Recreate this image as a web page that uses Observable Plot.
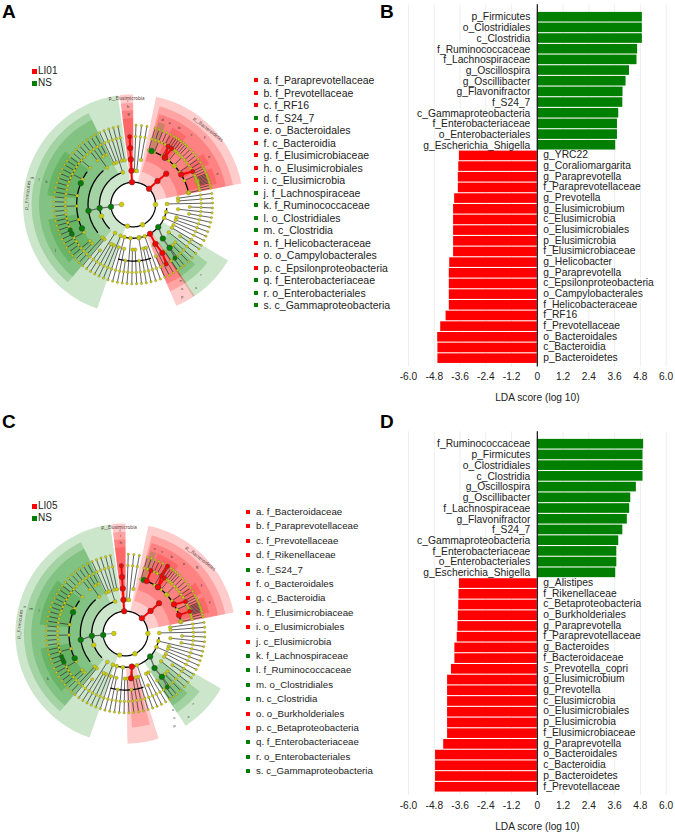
<!DOCTYPE html>
<html>
<head>
<meta charset="utf-8">
<script src="https://cdn.jsdelivr.net/npm/d3@7"></script>
<script src="https://cdn.jsdelivr.net/npm/@observablehq/plot@0.6"></script>
<style>
html,body{margin:0;padding:0;background:#fff;}
#page{position:relative;width:675px;height:832px;overflow:hidden;font-family:"Liberation Sans",Arial,sans-serif;color:#222;}
.panel{position:absolute;}
.panel svg{overflow:visible;background:transparent;display:block;}
.letter{position:absolute;font-weight:bold;font-size:19px;line-height:19px;color:#000;}
.key{position:absolute;white-space:nowrap;line-height:12px;}
.key i{position:absolute;width:4px;height:4px;top:4px;}
.leg{position:absolute;white-space:nowrap;font-size:10px;line-height:12px;}
.leg i{position:absolute;width:4px;height:4px;top:4px;left:-6px;}
</style>
</head>
<body>
<div id="page"></div>
<script>
const RED = "#ff0000", GREEN = "#007f00";

// ---- bar panels ----
const namesB = ["p_Firmicutes","o_Clostridiales","c_Clostridia","f_Ruminococcaceae","f_Lachnospiraceae","g_Oscillospira","g_Oscillibacter","g_Flavonifractor","f_S24_7","c_Gammaproteobacteria","f_Enterobacteriaceae","o_Enterobacteriales","g_Escherichia_Shigella","g_YRC22","g_Coraliomargarita","g_Paraprevotella","f_Paraprevotellaceae","g_Prevotella","g_Elusimicrobium","c_Elusimicrobia","o_Elusimicrobiales","p_Elusimicrobia","f_Elusimicrobiaceae","g_Helicobacter","g_Paraprevotella","c_Epsilonproteobacteria","o_Campylobacterales","f_Helicobacteraceae","f_RF16","f_Prevotellaceae","o_Bacteroidales","c_Bacteroidia","p_Bacteroidetes"];
const valuesB = [4.89,4.89,4.89,4.67,4.64,4.29,4.13,3.99,3.98,3.79,3.73,3.73,3.65,-3.63,-3.66,-3.68,-3.68,-3.85,-3.90,-3.90,-3.90,-3.90,-3.90,-4.08,-4.10,-4.10,-4.10,-4.10,-4.25,-4.50,-4.64,-4.63,-4.63];
const namesD = ["f_Ruminococcaceae","p_Firmicutes","o_Clostridiales","c_Clostridia","g_Oscillospira","g_Oscillibacter","f_Lachnospiraceae","g_Flavonifractor","f_S24_7","c_Gammaproteobacteria","f_Enterobacteriaceae","o_Enterobacteriales","g_Escherichia_Shigella","g_Alistipes","f_Rikenellaceae","c_Betaproteobacteria","o_Burkholderiales","g_Paraprevotella","f_Paraprevotellaceae","g_Bacteroides","f_Bacteroidaceae","s_Prevotella_copri","g_Elusimicrobium","g_Prevotella","c_Elusimicrobia","o_Elusimicrobiales","p_Elusimicrobia","f_Elusimicrobiaceae","g_Paraprevotella","o_Bacteroidales","c_Bacteroidia","p_Bacteroidetes","f_Prevotellaceae"];
const valuesD = [4.95,4.92,4.92,4.92,4.61,4.35,4.30,4.19,3.98,3.79,3.70,3.70,3.65,-3.63,-3.65,-3.66,-3.68,-3.70,-3.73,-3.84,-3.84,-4.00,-4.18,-4.18,-4.18,-4.18,-4.18,-4.18,-4.36,-4.74,-4.74,-4.74,-4.75];
const ldaTicks = [-6,-4.8,-3.6,-2.4,-1.2,0,1.2,2.4,3.6,4.8,6];
const ldaLabels = ["-6.0","-4.8","-3.6","-2.4","-1.2","0","1.2","2.4","3.6","4.8","6.0"];

// ---- key lists ----
const keyA = ["a. f_Paraprevotellaceae","b. f_Prevotellaceae","c. f_RF16","d. f_S24_7","e. o_Bacteroidales","f. c_Bacteroidia","g. f_Elusimicrobiaceae","h. o_Elusimicrobiales","i. c_Elusimicrobia","j. f_Lachnospiraceae","k. f_Ruminococcaceae","l. o_Clostridiales","m. c_Clostridia","n. f_Helicobacteraceae","o. o_Campylobacterales","p. c_Epsilonproteobacteria","q. f_Enterobacteriaceae","r. o_Enterobacteriales","s. c_Gammaproteobacteria"];
const keyAc = "rrrgrrrrrggggrrrggg";
const keyC = ["a. f_Bacteroidaceae","b. f_Paraprevotellaceae","c. f_Prevotellaceae","d. f_Rikenellaceae","e. f_S24_7","f. o_Bacteroidales","g. c_Bacteroidia","h. f_Elusimicrobiaceae","i. o_Elusimicrobiales","j. c_Elusimicrobia","k. f_Lachnospiraceae","l. f_Ruminococcaceae","m. o_Clostridiales","n. c_Clostridia","o. o_Burkholderiales","p. c_Betaproteobacteria","q. f_Enterobacteriaceae","r. o_Enterobacteriales","s. c_Gammaproteobacteria"];
const keyCc = "rrrrgrrrrrggggrrggg";

// ---- cladogram tree: angle clockwise from north, level = ring ----
const spokeAngle = [2,6,10, 16,19,22,25,28,31,33,35,37,39,41,43,46,49,52,55,58,61,63,65,67,68,69,70,71,72,73,74,76,78, 82,85.5,89,92.5,96,99.5,103,106.5,110,113.5,117, 121,124,128,132,136,140,143,146, 149.5,153,156.5,160,163.5,167,170.5,174,177.5,181,184.5,188,191.5,195,198.5, 202,205.5,209,212.5,216,219.5,223,226.5,230,233.5,237,240.5,244,247.5,251,254.5,258,261.5,265,268.5,272,275.5,279,282.5,286,289.5,293,296.5,300,303.5,307,310.5,314,317.5,321,324.5,328,331.5,335,338.5,342,345.5,349];
const spokeFrom = [2,2,3, 4,5,4,5,5,4,5,5,5,4,5,5,4,5,5,4,5,5,5,4,5,5,5,5,5,5,5,5,5,4, 3,3,2,4,3,4,2,3,3,2,3, 3,4,3,4,4,4,5,4, 3,3,4,2,3,3,2,4,3,3,2,4,3,2,3, 2,3,3,2,4,3,3,4,4,5,5,4,5,5,5,4,5,5,5,4,5,5,4,5,5,5,5,4,5,5,5,4,5,5,4,3,4,4,3,3,2,3,3];

const arcAngle1 = [0,225,232,240,19,132,97,162,24,232,290];
const arcAngle2 = [360,338,318,305,78,195,130,195,40,262,312];
const arcLevel  = [1,2,3,4,4,2,2,4,5,5,5];

const labelsClade = ["p__Firmicutes","p__Bacteroidetes","p__Elusimicrobia"];

// highlighted chains: angle, level, colour
const chainsA = [
 {c:"r",t:[357,357,357,357,357],l:[1,2,3,4,5]},
 {c:"r",t:[45,46,47],l:[1,2,3]},
 {c:"r",t:[34,34.5],l:[4,5]},
 {c:"r",t:[34,31],l:[4,5]},
 {c:"g",t:[19],l:[4]},
 {c:"r",t:[58,61],l:[4,5]},
 {c:"r",t:[150,150.6,149,151],l:[2,3,4,5]},
 {c:"g",t:[132,139,140,142],l:[2,3,4,5]},
 {c:"g",t:[264,264,262],l:[1,2,3]},
 {c:"g",t:[292],l:[4]},
 {c:"g",t:[245],l:[4]},
 {c:"g",t:[248,245,244],l:[5,5,5]}
];
const chainsC = [
 {c:"r",t:[356.5,356.5,356.5,356.5,356.5],l:[1,2,3,4,5]},
 {c:"r",t:[47,48,48],l:[1,2,3]},
 {c:"r",t:[35,32,32],l:[4,5,6]},
 {c:"r",t:[35,35],l:[4,5]},
 {c:"g",t:[19],l:[4]},
 {c:"r",t:[22,22],l:[4,5]},
 {c:"r",t:[59,62],l:[4,5]},
 {c:"r",t:[71,71],l:[4,5]},
 {c:"r",t:[169,173],l:[2,3]},
 {c:"g",t:[133,140,140,142],l:[2,3,4,5]},
 {c:"g",t:[266,266,262],l:[1,2,3]},
 {c:"g",t:[292],l:[4]},
 {c:"g",t:[244],l:[4]},
 {c:"g",t:[250,247,245],l:[5,5,5]}
];
// wedges: start angle, end angle, inner level, outer level, colour
const wedgesA = [
 [199,352,1,8.7,"g"],[220,334,2,7.95,"g"],[220,334,3,7.3,"g"],[228,260,4,6.6,"g"],[276,308,4,6.6,"g"],
 [12,79,1,8.7,"r"],[15,79,2,7.95,"r"],[16,79,3,7.3,"r"],[17,22,4,6.6,"g"],[27,38,4,6.6,"r"],[54,62,4,6.6,"r"],[65,76,4,6.6,"r"],
 [353,360,1,8.7,"r"],[353,360,2,7.95,"r"],[353,360,3,7.3,"r"],[353,360,4,6.6,"r"],
 [120.5,147,2,8.7,"g"],[128,147,3,7.3,"g"],[134,147,4,6.6,"g"],
 [146,157,2,8.7,"r"],[146,157,3,7.3,"r"],[146,157,4,6.6,"r"]
];
const wedgesC = [
 [199,352,1,8.7,"g"],[220,334,2,7.95,"g"],[220,334,3,7.3,"g"],[228,260,4,6.6,"g"],[276,308,4,6.6,"g"],
 [12,79,1,8.7,"r"],[15,79,2,7.95,"r"],[16,79,3,7.3,"r"],[17,21,4,6.6,"g"],[22,38,4,6.6,"r"],[54,62,4,6.6,"r"],[65,76,4,6.6,"r"],
 [353,360,1,8.7,"r"],[353,360,2,7.95,"r"],[353,360,3,7.3,"r"],[353,360,4,6.6,"r"],
 [120,147,2,8.7,"g"],[128,147,3,7.3,"g"],[134,147,4,6.6,"g"],
 [162.5,179,2,8.7,"r"],[165,176,3,7.3,"r"]
];
// small wedge letters
const lettersAt = [357,357,357,24,31,40,47,58,70,19,285,285,285,240,143,136,152,150,148];
const lettersLv = [8.2,7.6,7,6.9,6.9,7,7.6,6.9,6.9,6.9,8.2,7.6,6.9,6.9,8.2,7.6,8.2,7.6,6.9];
const lettersA = ["i","h","g","a","b","c","f","e","e","d","m","l","k","j","s","r","p","o","n"];
const lettersC = ["j","i","h","c","b","a","g","f","f","e","n","m","l","k","s","r","p","o","o"];

// ---- helpers ----
const page = document.getElementById("page");
const K = 11.4;
const rad = L => L + 0.96;
const px = (t,L) => rad(L)*Math.sin(t*Math.PI/180);
const py = (t,L) => rad(L)*Math.cos(t*Math.PI/180);
const col = c => c === "r" ? RED : GREEN;

function place(el,left,top){ const d=document.createElement("div"); d.className="panel"; d.style.left=left+"px"; d.style.top=top+"px"; d.appendChild(el); page.appendChild(d); }
function text(cls,left,top,str){ const d=document.createElement("div"); d.className=cls; d.style.left=left+"px"; d.style.top=top+"px"; d.textContent=str; page.appendChild(d); return d; }

function arcPts(t1,t2,L){ const n=Math.max(2,Math.ceil(Math.abs(t2-t1)/2)); return d3.range(n+1).map(i=>{const t=t1+(t2-t1)*i/n; return {x:px(t,L),y:py(t,L)};}); }

function clade({left,top,w,h,cx,cy,wedges,chains,letters,phyla}){
  const marks=[];
  wedges.forEach(([a,b,l0,l1,c])=>{
    const pts=[...arcPts(a,b,l1),...arcPts(b,a,l0)];
    marks.push(Plot.line(pts,{x:"x",y:"y",fill:c==="r"?"#ff0000":"#008000",fillOpacity:0.2,stroke:"none",curve:"linear-closed"}));
  });
  const spokes=spokeAngle.flatMap((t,i)=>[{x:px(t,spokeFrom[i]),y:py(t,spokeFrom[i]),z:i},{x:px(t,6),y:py(t,6),z:i}]);
  marks.push(Plot.line(spokes,{x:"x",y:"y",z:"z",stroke:"#3a3a3a",strokeWidth:0.8}));
  marks.push(Plot.line([{x:px(268,1),y:py(268,1)},{x:px(270,0.06),y:py(270,0.06)}],{x:"x",y:"y",stroke:"#999",strokeWidth:1}));
  arcAngle1.forEach((a,i)=>{
    marks.push(Plot.line(arcPts(a,arcAngle2[i],arcLevel[i]),{x:"x",y:"y",stroke:"#000",strokeWidth:arcLevel[i]<5?1.3:0.7}));
  });
  chains.forEach(ch=>{
    if(ch.t.length>1 && new Set(ch.l).size>1){
      const pts=ch.t.map((t,i)=>({x:px(t,ch.l[i]),y:py(t,ch.l[i])}));
      marks.push(Plot.line(pts,{x:"x",y:"y",stroke:ch.c==="r"?RED:"#666",strokeWidth:ch.c==="r"?2:1.3}));
    }
  });
  const sizeY=[2.3,2.3,2,1.8,1.6,1.4,1.2];
  const yellow=spokeAngle.flatMap((t,i)=>[spokeFrom[i],5,6].filter((L,j,a)=>a.indexOf(L)===j).map(L=>({x:px(t,L),y:py(t,L),r:sizeY[L]})));
  const extraT=[270,47,155,90,195,170,78,70,250];
  const extraL=[0.06,4,1,1,1,2,4,5,2];
  extraT.forEach((t,i)=>yellow.push({x:px(t,extraL[i]),y:py(t,extraL[i]),r:2.4}));
  marks.push(Plot.dot(yellow,{x:"x",y:"y",r:"r",fill:"#cccc00",stroke:"#666",strokeWidth:0.3}));
  const hi=chains.flatMap(ch=>ch.t.map((t,i)=>({x:px(t,ch.l[i]),y:py(t,ch.l[i]),r:ch.l[i]>=5?2.2:2.8,c:col(ch.c)})));
  marks.push(Plot.dot(hi,{x:"x",y:"y",r:"r",fill:"c",stroke:"#444",strokeWidth:0.5}));
  marks.push(Plot.text(letters,{x:(d,i)=>px(lettersAt[i],lettersLv[i]),y:(d,i)=>py(lettersAt[i],lettersLv[i]),text:d=>d,fontSize:4,fill:"#333"}));
  marks.push(Plot.text(labelsClade,{x:(d,i)=>px(phyla[i],8.35),y:(d,i)=>py(phyla[i],8.35),text:d=>d,rotate:(d,i)=>[-84,38,0][i],fontSize:4.6,fill:"#533"}));
  const plot=Plot.plot({
    width:w,height:h,margin:0,
    x:{domain:[-cx/K,(w-cx)/K],range:[0,w],axis:null},
    y:{domain:[-(h-cy)/K,cy/K],range:[h,0],axis:null},
    r:{type:"identity"},
    color:{type:"identity"},
    marks
  });
  place(plot,left,top);
}

function bars({left,top,h,step,names,values}){
  const W=295, mL=28, mR=9.3;
  const rows=names.map((n,i)=>({i,n,v:values[i]}));
  const mT=step.first-step.s/2, mB=h-(step.first+step.s*(names.length-0.5));
  const plot=Plot.plot({
    width:W,height:h,marginLeft:mL,marginRight:mR,marginTop:mT,marginBottom:mB,
    x:{domain:[-6,6],ticks:ldaTicks},
    y:{type:"band",domain:rows.map(d=>d.i),paddingInner:0.1,paddingOuter:0.05,round:false,axis:null},
    color:{type:"identity"},
    style:{fontFamily:"Liberation Sans, Arial, sans-serif"},
    marks:[
      Plot.ruleX(ldaTicks,{stroke:"#eeeeee",strokeWidth:1,insetTop:-7,insetBottom:-3}),
      Plot.barX(rows,{x:"v",y:"i",fill:d=>d.v>0?GREEN:RED}),
      Plot.ruleX([0],{stroke:"#222",strokeWidth:1.3,insetTop:-7,insetBottom:-3}),
      Plot.text(rows.filter(d=>d.v>0),{x:0,y:"i",text:"n",textAnchor:"end",dx:-7,fontSize:10.3,fill:"#222"}),
      Plot.text(rows.filter(d=>d.v<0),{x:0,y:"i",text:"n",textAnchor:"start",dx:6,dy:-1,fontSize:10.3,fill:"#222"}),
      Plot.axisX(ldaTicks,{anchor:"bottom",tickSize:0,tickPadding:9,fontSize:10.2,fill:"#222",
        tickFormat:d=>ldaLabels[ldaTicks.indexOf(d)],
        label:"LDA score (log 10)",labelAnchor:"center",labelArrow:"none",labelOffset:37})
    ]
  });
  place(plot,left,top);
}

// ---- build ----
text("letter",2,2,"A"); text("letter",380,2,"B"); text("letter",2,412,"C"); text("letter",380,412,"D");

clade({left:0,top:90,w:245,h:225,cx:132.7,cy:114,wedges:wedgesA,chains:chainsA,letters:lettersA,phyla:[275,45,356.5]});
clade({left:0,top:520,w:245,h:216,cx:125,cy:113,wedges:wedgesC,chains:chainsC,letters:lettersC,phyla:[275,45,356.5]});

function legend(top,name){
  const a=text("leg",38,top-6,name); const ai=document.createElement("i"); ai.style.background=RED; ai.style.width="5px";ai.style.height="5px"; a.appendChild(ai);
  const b=text("leg",38,top+6,"NS"); const bi=document.createElement("i"); bi.style.background=GREEN; bi.style.width="5px";bi.style.height="5px"; b.appendChild(bi);
}
legend(71,"LI01"); legend(506,"LI05");

function keyList(items,cols,x,y0,dy,fs){
  items.forEach((s,i)=>{
    const d=text("key",x,y0+dy*i-6,s);
    d.style.fontSize=fs+"px";
    const m=document.createElement("i"); m.style.left="-10px"; m.style.background=cols[i]==="r"?RED:GREEN; d.appendChild(m);
  });
}
keyList(keyA,keyAc,263.5,80,12.5,10.5);
keyList(keyC,keyCc,256,512,14.4,9.7);

bars({left:380,top:0,h:410,step:{first:16.7,s:10.67},names:namesB,values:valuesB});
bars({left:380,top:410,h:422,step:{first:33.7,s:10.72},names:namesD,values:valuesD});
</script>
</body>
</html>
